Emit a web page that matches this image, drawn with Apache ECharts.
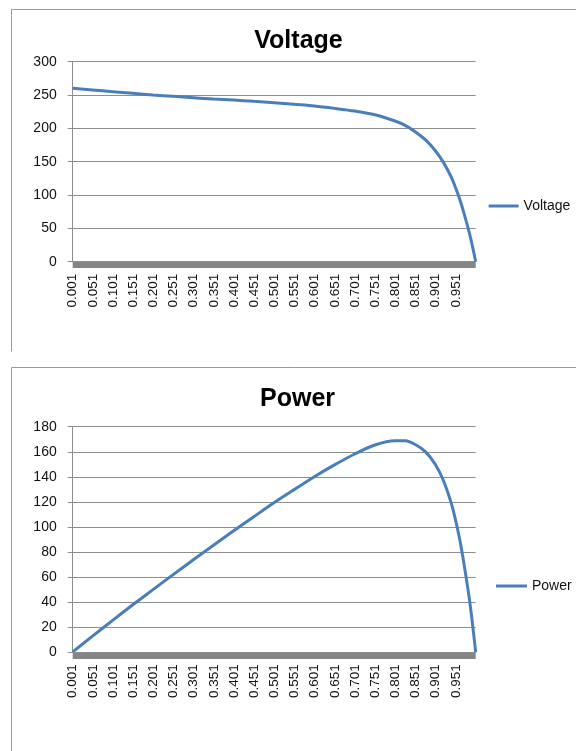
<!DOCTYPE html>
<html><head><meta charset="utf-8">
<script src="https://cdn.jsdelivr.net/npm/echarts@6/dist/echarts.min.js"></script>
<style>html,body{margin:0;padding:0;background:#fff}#c{width:576px;height:751px}</style>
</head><body><div id="c"></div>
<script>
const current = [0.001, 0.05, 0.1, 0.15, 0.2, 0.25, 0.3, 0.35, 0.4, 0.45, 0.5, 0.55, 0.6, 0.65, 0.7, 0.75, 0.8, 0.825, 0.85, 0.875, 0.9, 0.92, 0.94, 0.955, 0.965, 0.975, 0.98, 0.985, 0.99, 0.995, 1.0];
const voltage = [260, 257.5, 255, 252.5, 250, 248, 246, 244, 242.5, 240.5, 238.5, 236, 233.5, 230, 226, 220.5, 211, 204.5, 195, 183, 166.5, 149, 126, 103, 85, 64, 53, 41.5, 28.5, 14.5, 0];
const power = [0.3, 12.9, 25.5, 37.9, 50, 62, 73.8, 85.4, 97, 108.2, 119.3, 129.8, 140.1, 149.5, 158.2, 165.4, 168.8, 168.7, 165.8, 160.1, 149.9, 137.1, 118.4, 98.4, 82, 62.4, 51.9, 40.9, 28.2, 14.4, 0];
const xTickLabels = [0.001, 0.051, 0.101, 0.151, 0.201, 0.251, 0.301, 0.351, 0.401, 0.451, 0.501, 0.551, 0.601, 0.651, 0.701, 0.751, 0.801, 0.851, 0.901, 0.951];
const voltageAxis = {min: 0, max: 300, interval: 50};
const powerAxis = {min: 0, max: 180, interval: 20};

const FONT = "'Liberation Sans', Arial, sans-serif";
const GRID_GRAY = '#8e8e8e';
const BAND_GRAY = '#858585';
const LINE_BLUE = '#4a7ebb';

function pairs(xs, ys) { return xs.map((x, i) => [x, ys[i]]); }

function xAxisCfg(gridIndex) {
  return {
    type: 'value', gridIndex, min: 0.001, max: 1.0,
    offset: 3,
    axisLine: {show: true, onZero: false, lineStyle: {color: BAND_GRAY, width: 6, cap: 'butt'}},
    axisTick: {show: false},
    splitLine: {show: false},
    axisLabel: {
      customValues: xTickLabels, rotate: 90, margin: 9,
      fontFamily: FONT, fontSize: 13.5, color: '#111',
      formatter: v => Number(v).toFixed(3)
    }
  };
}
function yAxisCfg(gridIndex, ax) {
  return {
    type: 'value', gridIndex, min: ax.min, max: ax.max, interval: ax.interval,
    axisLine: {show: true, lineStyle: {color: GRID_GRAY, width: 1}},
    axisTick: {show: true, length: 5, lineStyle: {color: GRID_GRAY}},
    splitLine: {show: true, lineStyle: {color: GRID_GRAY, width: 1}},
    axisLabel: {margin: 16, fontFamily: FONT, fontSize: 14, color: '#111'}
  };
}
const chart = echarts.init(document.getElementById('c'), null, {renderer: 'canvas'});
chart.setOption({
  animation: false,
  backgroundColor: '#fff',
  title: [
    {text: 'Voltage', left: 293.5, textAlign: 'center', top: 24,
     textStyle: {fontFamily: FONT, fontSize: 25, fontWeight: 'bold', color: '#000'}},
    {text: 'Power', left: 292.5, textAlign: 'center', top: 382,
     textStyle: {fontFamily: FONT, fontSize: 25, fontWeight: 'bold', color: '#000'}}
  ],
  legend: [
    {data: ['Voltage'], left: 483.6, top: 194, icon: 'rect', itemWidth: 30, itemHeight: 3,
     textStyle: {fontFamily: FONT, fontSize: 14, color: '#111'}},
    {data: ['Power'], left: 491, top: 574, icon: 'rect', itemWidth: 31, itemHeight: 3,
     textStyle: {fontFamily: FONT, fontSize: 14, color: '#111'}}
  ],
  grid: [
    {left: 72.7, top: 61.7, width: 403, height: 200},
    {left: 72.7, top: 426.7, width: 403, height: 225.6}
  ],
  xAxis: [xAxisCfg(0), xAxisCfg(1)],
  yAxis: [yAxisCfg(0, voltageAxis), yAxisCfg(1, powerAxis)],
  series: [
    {name: 'Voltage', type: 'line', xAxisIndex: 0, yAxisIndex: 0, data: pairs(current, voltage),
     showSymbol: false, smooth: 0.3, lineStyle: {color: LINE_BLUE, width: 3}, itemStyle: {color: LINE_BLUE}},
    {name: 'Power', type: 'line', xAxisIndex: 1, yAxisIndex: 1, data: pairs(current, power),
     showSymbol: false, smooth: 0.3, lineStyle: {color: LINE_BLUE, width: 3}, itemStyle: {color: LINE_BLUE}}
  ],
  graphic: [
    {type: 'polyline', silent: true, shape: {points: [[11.5, 351.5], [11.5, 9.5], [600, 9.5]]},
     style: {stroke: '#9a9a9a', lineWidth: 1, fill: null}},
    {type: 'polyline', silent: true, shape: {points: [[11.5, 760], [11.5, 367.5], [600, 367.5]]},
     style: {stroke: '#9a9a9a', lineWidth: 1, fill: null}}
  ]
});
</script></body></html>
